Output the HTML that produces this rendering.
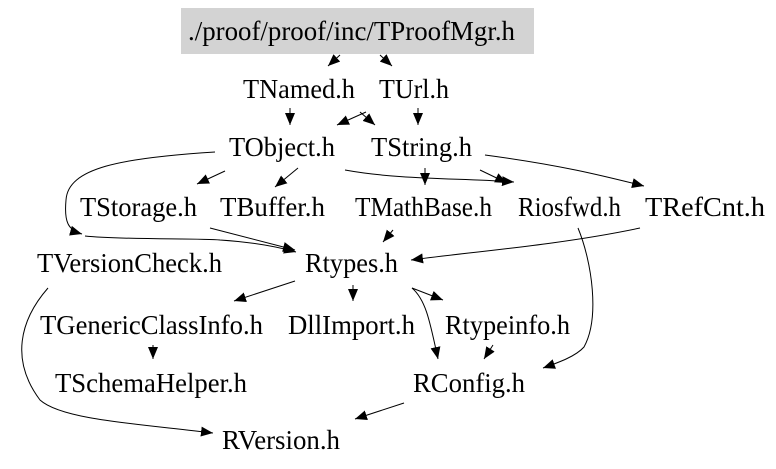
<!DOCTYPE html>
<html><head><meta charset="utf-8"><style>
html,body{margin:0;padding:0;background:#fff;}
svg{display:block;}
text{font-family:"Liberation Serif",serif;font-size:27px;fill:#000;}
</style></head><body>
<svg width="776" height="469" viewBox="0 0 776 469" xmlns="http://www.w3.org/2000/svg">
<defs>
<marker id="a" markerWidth="12" markerHeight="10" refX="12" refY="5" orient="auto" markerUnits="userSpaceOnUse">
<path d="M0,0 L12,5 L0,10 Z" fill="#000"/>
</marker>
</defs>
<rect x="181" y="8" width="353" height="46" fill="#d3d3d3"/>
<g fill="none" stroke="#000" stroke-width="1" marker-end="url(#a)">
<path d="M340,55 L328,66"/>
<path d="M380,55 L392,66"/>
<path d="M290,108 L290,125"/>
<path d="M360,112 L375,125"/>
<path d="M366,112 L337,125"/>
<path d="M418,108 L418,125"/>
<path d="M225,171 L197,184"/>
<path d="M298,168 L275,187"/>
<path d="M345,170 C400,180 460,178 514,182"/>
<path d="M425,168 L425,185"/>
<path d="M480,170 L507,183"/>
<path d="M485,155 C560,165 600,175 644,186"/>
<path d="M215,152 C120,158 68,168 66,200 C64,222 68,230 82,234"/>
<path d="M85,236 C120,240 200,238 220,240 C250,242 275,246 296,252"/>
<path d="M210,228 L295,250"/>
<path d="M393,230 L383,242"/>
<path d="M640,228 C560,245 470,252 411,260"/>
<path d="M578,228 C592,262 600,318 584,347 C576,356 560,362 543,368"/>
<path d="M295,281 L234,301"/>
<path d="M353,285 L353,301"/>
<path d="M412,288 L443,300"/>
<path d="M412,288 C426,300 430,322 438,359"/>
<path d="M493,345 L484,359"/>
<path d="M153,345 L153,359"/>
<path d="M404,403 L355,419"/>
<path d="M48,288 C20,320 10,360 40,400 C62,420 140,424 213,433"/>
</g>
<text x="188" y="40" textLength="327" lengthAdjust="spacingAndGlyphs">./proof/proof/inc/TProofMgr.h</text>
<text x="243" y="98" textLength="112" lengthAdjust="spacingAndGlyphs">TNamed.h</text>
<text x="379" y="98" textLength="70" lengthAdjust="spacingAndGlyphs">TUrl.h</text>
<text x="229" y="156" textLength="106" lengthAdjust="spacingAndGlyphs">TObject.h</text>
<text x="371" y="156" textLength="101" lengthAdjust="spacingAndGlyphs">TString.h</text>
<text x="80" y="216" textLength="117" lengthAdjust="spacingAndGlyphs">TStorage.h</text>
<text x="220" y="216" textLength="105" lengthAdjust="spacingAndGlyphs">TBuffer.h</text>
<text x="355" y="216" textLength="137" lengthAdjust="spacingAndGlyphs">TMathBase.h</text>
<text x="518" y="216" textLength="103" lengthAdjust="spacingAndGlyphs">Riosfwd.h</text>
<text x="645" y="216" textLength="120" lengthAdjust="spacingAndGlyphs">TRefCnt.h</text>
<text x="37" y="272" textLength="185" lengthAdjust="spacingAndGlyphs">TVersionCheck.h</text>
<text x="305" y="272" textLength="93" lengthAdjust="spacingAndGlyphs">Rtypes.h</text>
<text x="40" y="334" textLength="223" lengthAdjust="spacingAndGlyphs">TGenericClassInfo.h</text>
<text x="288" y="334" textLength="127" lengthAdjust="spacingAndGlyphs">DllImport.h</text>
<text x="445" y="334" textLength="125" lengthAdjust="spacingAndGlyphs">Rtypeinfo.h</text>
<text x="55" y="392" textLength="192" lengthAdjust="spacingAndGlyphs">TSchemaHelper.h</text>
<text x="413" y="392" textLength="112" lengthAdjust="spacingAndGlyphs">RConfig.h</text>
<text x="222" y="449" textLength="118" lengthAdjust="spacingAndGlyphs">RVersion.h</text>
</svg>
</body></html>
